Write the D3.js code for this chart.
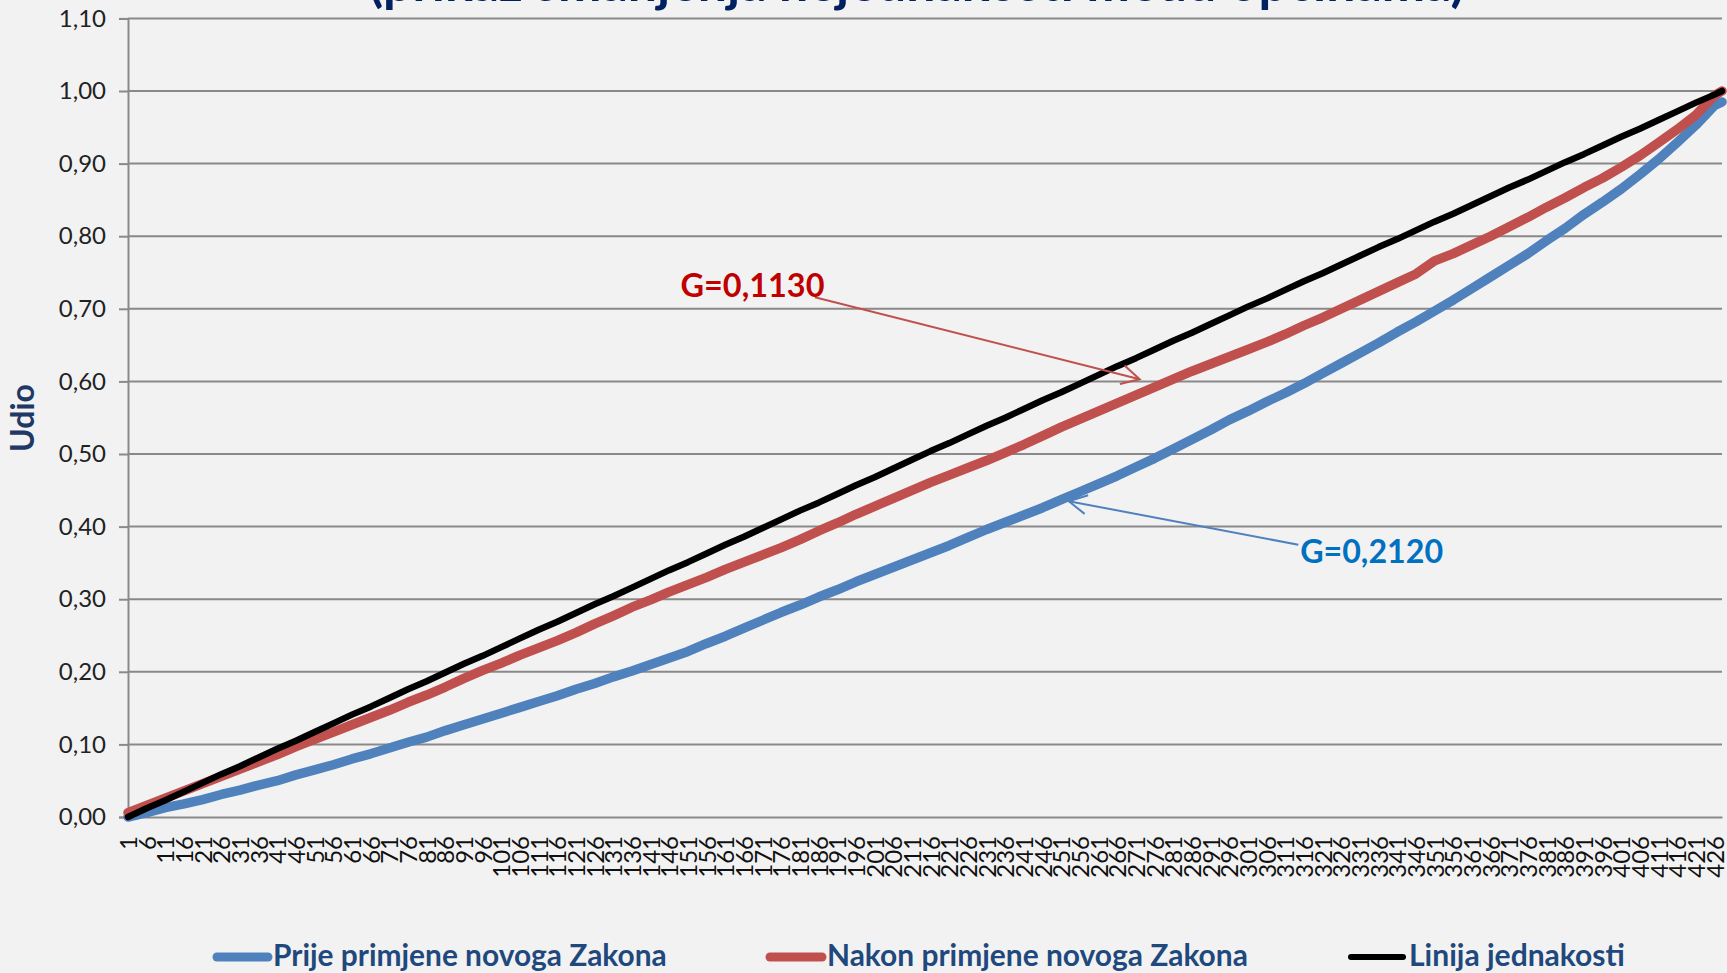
<!DOCTYPE html>
<html><head><meta charset="utf-8">
<script src="https://cdn.jsdelivr.net/npm/d3@7"></script>
<style>
html,body{margin:0;padding:0;background:#f2f2f2;overflow:hidden}
svg{display:block}
</style></head><body>
<svg id="chart" width="1727" height="973"></svg>
<script>
// ---------------- DATA ----------------
const titleText = "(prikaz smanjenja nejednakosti među općinama)";
const yAxisTitle = "Udio";
const seriesNames = ["Prije primjene novoga Zakona", "Nakon primjene novoga Zakona", "Linija jednakosti"];

const categories = [1,6,11,16,21,26,31,36,41,46,51,56,61,66,71,76,81,86,91,96,101,106,111,116,121,126,131,136,141,146,151,156,161,166,171,176,181,186,191,196,201,206,211,216,221,226,231,236,241,246,251,256,261,266,271,276,281,286,291,296,301,306,311,316,321,326,331,336,341,346,351,356,361,366,371,376,381,386,391,396,401,406,411,416,421,426,428];

const xTickLabels = [1,6,11,16,21,26,31,36,41,46,51,56,61,66,71,76,81,86,91,96,101,106,111,116,121,126,131,136,141,146,151,156,161,166,171,176,181,186,191,196,201,206,211,216,221,226,231,236,241,246,251,256,261,266,271,276,281,286,291,296,301,306,311,316,321,326,331,336,341,346,351,356,361,366,371,376,381,386,391,396,401,406,411,416,421,426];

const yTickValues = [0,0.1,0.2,0.3,0.4,0.5,0.6,0.7,0.8,0.9,1.0,1.1];

// Prije primjene novoga Zakona (blue)
const beforeValues = [
0.000,0.006,0.013,0.018,0.024,0.031,0.037,0.044,0.050,0.058,
0.065,0.072,0.080,0.087,0.095,0.103,0.110,0.119,0.127,0.135,
0.143,0.151,0.159,0.167,0.176,0.184,0.193,0.201,0.210,0.219,
0.228,0.239,0.249,0.260,0.271,0.282,0.292,0.303,0.313,0.324,
0.334,0.344,0.354,0.364,0.374,0.385,0.396,0.406,0.416,0.426,
0.437,0.448,0.459,0.470,0.482,0.494,0.507,0.520,0.533,0.547,
0.559,0.572,0.584,0.597,0.611,0.625,0.639,0.653,0.668,0.682,
0.697,0.712,0.728,0.744,0.760,0.776,0.794,0.811,0.830,0.847,
0.865,0.885,0.906,0.929,0.953,0.980,0.985];

// Nakon primjene novoga Zakona (red)
const afterValues = [
0.006,0.016,0.026,0.036,0.046,0.056,0.066,0.076,0.086,0.097,
0.107,0.117,0.127,0.137,0.147,0.158,0.168,0.179,0.191,0.202,
0.212,0.223,0.233,0.243,0.254,0.266,0.277,0.289,0.299,0.310,
0.320,0.330,0.341,0.351,0.361,0.371,0.382,0.394,0.405,0.417,
0.428,0.439,0.450,0.461,0.471,0.481,0.491,0.502,0.513,0.525,
0.537,0.548,0.559,0.570,0.581,0.592,0.603,0.614,0.624,0.634,
0.644,0.654,0.665,0.677,0.688,0.700,0.712,0.724,0.736,0.748,
0.766,0.776,0.788,0.800,0.813,0.826,0.840,0.853,0.867,0.880,
0.895,0.911,0.929,0.947,0.967,0.994,1.000];

// Linija jednakosti (black)
const equalityValues = [
0.000,0.012,0.023,0.035,0.047,0.059,0.070,0.082,0.094,0.105,
0.117,0.129,0.141,0.152,0.164,0.176,0.187,0.199,0.211,0.222,
0.234,0.246,0.258,0.269,0.281,0.293,0.304,0.316,0.328,0.340,
0.351,0.363,0.375,0.386,0.398,0.410,0.422,0.433,0.445,0.457,
0.468,0.480,0.492,0.504,0.515,0.527,0.539,0.550,0.562,0.574,
0.585,0.597,0.609,0.621,0.632,0.644,0.656,0.667,0.679,0.691,
0.703,0.714,0.726,0.738,0.749,0.761,0.773,0.785,0.796,0.808,
0.820,0.831,0.843,0.855,0.867,0.878,0.890,0.902,0.913,0.925,
0.937,0.948,0.960,0.972,0.984,0.995,1.000];

const giniLabels = ["G=0,2120", "G=0,1130"];

// ---------------- LAYOUT ----------------
const W = 1727, H = 973;
const plot = {left: 128, right: 1722, top: 18.4, bottom: 817};
const FONT = "Lato, 'Open Sans', 'Liberation Sans', sans-serif";
const colors = ["#4F81BD", "#C0504D", "#000000"];
const widths = [9.5, 9.5, 6.5];
const gridColor = "#898989";

const svg = d3.select("#chart");
svg.append("rect").attr("width", W).attr("height", H).attr("fill", "#f2f2f2");

const x = d3.scaleLinear().domain([1, 428]).range([plot.left, plot.right]);
const y = d3.scaleLinear().domain([0, 1.1]).range([plot.bottom, plot.top]);

function fitWidth(sel, target) {
  const w = sel.node().getComputedTextLength();
  const fs = parseFloat(sel.attr("font-size"));
  sel.attr("font-size", fs * target / w);
}

// Title (mostly cut off at top, as in the reference)
const title = svg.append("text")
  .attr("x", 369).attr("y", 1)
  .attr("font-family", FONT).attr("font-weight", "bold")
  .attr("font-size", 40).attr("fill", "#002060")
  .text(titleText);
fitWidth(title, 1096);

// Gridlines
svg.append("g")
  .selectAll("line").data(yTickValues.filter(v => v > 0)).join("line")
  .attr("x1", plot.left).attr("x2", plot.right)
  .attr("y1", d => y(d)).attr("y2", d => y(d))
  .attr("stroke", gridColor).attr("stroke-width", 2);

// Y axis
const fmt = d => d3.format(".2f")(d).replace(".", ",");
const yAxis = svg.append("g").attr("transform", `translate(${plot.left},0)`)
  .call(d3.axisLeft(y).tickValues(yTickValues).tickSize(9).tickPadding(13).tickFormat(fmt));
yAxis.select(".domain").attr("stroke", gridColor).attr("stroke-width", 2);
yAxis.selectAll(".tick line").attr("stroke", gridColor).attr("stroke-width", 2);
yAxis.selectAll(".tick text")
  .attr("font-family", FONT).attr("font-size", 24).attr("fill", "#222");

// X axis
const xAxis = svg.append("g").attr("transform", `translate(0,${plot.bottom})`)
  .call(d3.axisBottom(x).tickValues(xTickLabels).tickSize(0).tickFormat(d => d));
xAxis.select(".domain").attr("stroke", gridColor).attr("stroke-width", 2.2);
xAxis.selectAll(".tick text")
  .attr("font-family", FONT).attr("font-size", 24).attr("fill", "#111")
  .attr("transform", "rotate(-90)")
  .attr("text-anchor", "end")
  .attr("x", -19).attr("y", 0).attr("dy", "0.36em");

// Series
const seriesValues = [beforeValues, afterValues, equalityValues];
const line = d3.line().x(d => x(d.c)).y(d => y(d.v));
seriesValues.forEach((vals, i) => {
  const pts = categories.map((c, j) => ({c: c, v: vals[j]}));
  svg.append("path").datum(pts)
    .attr("d", line)
    .attr("fill", "none")
    .attr("stroke", colors[i])
    .attr("stroke-width", widths[i])
    .attr("stroke-linejoin", "round")
    .attr("stroke-linecap", "round");
});

// Y axis title
svg.append("text")
  .attr("transform", `translate(34,418) rotate(-90)`)
  .attr("text-anchor", "middle")
  .attr("font-family", FONT).attr("font-weight", "bold")
  .attr("font-size", 32).attr("fill", "#1F3864")
  .text(yAxisTitle);

// Annotations (arrows + Gini labels)
const defs = svg.append("defs");
function marker(id, color) {
  defs.append("marker").attr("id", id)
    .attr("markerUnits", "userSpaceOnUse")
    .attr("markerWidth", 24).attr("markerHeight", 24)
    .attr("viewBox", "-2 -2 24 24")
    .attr("refX", 18).attr("refY", 9.5).attr("orient", "auto")
    .append("path").attr("d", "M0,0 L18,9.5 L0,19")
    .attr("fill", "none").attr("stroke", color).attr("stroke-width", 2);
}
marker("arrRed", "#C0504D");
marker("arrBlue", "#4F81BD");

const annotations = [
  {label: giniLabels[1], color: "#C00000", arrow: "#C0504D", mk: "arrRed",
   tx: 149, tv: 0.716, tw: 144, fx: 185, fv: 0.716, ex: 272, ev: 0.603},
  {label: giniLabels[0], color: "#0070C0", arrow: "#4F81BD", mk: "arrBlue",
   tx: 315, tv: 0.350, tw: 143, fx: 314.5, fv: 0.375, ex: 253, ev: 0.435}
];
annotations.forEach(a => {
  svg.append("line")
    .attr("x1", x(a.fx)).attr("y1", y(a.fv))
    .attr("x2", x(a.ex)).attr("y2", y(a.ev))
    .attr("stroke", a.arrow).attr("stroke-width", 2)
    .attr("marker-end", `url(#${a.mk})`);
  const t = svg.append("text")
    .attr("x", x(a.tx)).attr("y", y(a.tv))
    .attr("font-family", FONT).attr("font-weight", "bold")
    .attr("font-size", 34).attr("fill", a.color)
    .text(a.label);
  fitWidth(t, a.tw);
});

// Legend
const legendItems = [
  {x1: 217, x2: 268, tx: 273, tw: 394},
  {x1: 770, x2: 822, tx: 827, tw: 421},
  {x1: 1351, x2: 1403, tx: 1409, tw: 216}
];
const legY = 957;
legendItems.forEach((it, i) => {
  svg.append("line")
    .attr("x1", it.x1).attr("x2", it.x2).attr("y1", legY).attr("y2", legY)
    .attr("stroke", colors[i]).attr("stroke-width", i === 2 ? 6 : 9)
    .attr("stroke-linecap", "round");
  const t = svg.append("text")
    .attr("x", it.tx).attr("y", 966)
    .attr("font-family", FONT).attr("font-weight", "bold")
    .attr("font-size", 30).attr("fill", "#1F497D")
    .text(seriesNames[i]);
  fitWidth(t, it.tw);
});
</script>
</body></html>
